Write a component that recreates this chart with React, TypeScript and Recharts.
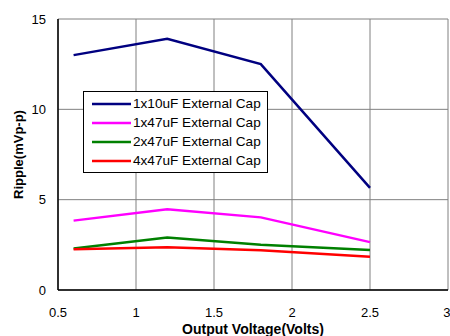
import React from 'react';
import { LineChart, Line, XAxis, YAxis, CartesianGrid } from 'recharts';

const voltages = [0.6, 1.2, 1.8, 2.5];
const cap1x10 = [13.0, 13.9, 12.5, 5.65];
const cap1x47 = [3.84, 4.47, 4.02, 2.65];
const cap2x47 = [2.3, 2.9, 2.5, 2.21];
const cap4x47 = [2.25, 2.36, 2.2, 1.84];
const xTicks = [0.5, 1, 1.5, 2, 2.5, 3];
const yTicks = [0, 5, 10, 15];

const SERIES = [
    { key: 'a', name: '1x10uF External Cap', values: cap1x10, color: '#000080' },
    { key: 'b', name: '1x47uF External Cap', values: cap1x47, color: '#ff00ff' },
    { key: 'c', name: '2x47uF External Cap', values: cap2x47, color: '#008000' },
    { key: 'd', name: '4x47uF External Cap', values: cap4x47, color: '#ff0000' },
];

const data = voltages.map((v, i) => {
    const row: Record<string, number> = { v };
    SERIES.forEach(s => { row[s.key] = s.values[i]; });
    return row;
});

const FONT = '"Liberation Sans", Arial, sans-serif';

// legend box sits over the plot, like the original
const LegendBox = () => (
    <div style={{ position: 'absolute', left: 83, top: 91, background: '#fff', border: '1px solid #000', padding: '2px 6px 2px 8px', fontFamily: FONT, fontSize: 13.6, color: '#000' }}>
        {SERIES.map(s => (
            <div key={s.key} style={{ display: 'flex', alignItems: 'center', height: 19 }}>
                <svg width={39} height={6} style={{ marginRight: 2 }}>
                    <line x1={0} y1={3} x2={39} y2={3} stroke={s.color} strokeWidth={2.5} />
                </svg>
                <span>{s.name}</span>
            </div>
        ))}
    </div>
);

const App: React.FC = () => (
    <div style={{ position: 'absolute', left: 0, top: 0, width: 450, height: 336, background: '#fff' }}>
        <LineChart width={450} height={336} data={data} margin={{ top: 19, right: 2, left: 0, bottom: 0 }}>
            <CartesianGrid stroke="#808080" strokeWidth={1} />
            <XAxis
                dataKey="v"
                type="number"
                domain={[0.5, 3]}
                ticks={xTicks}
                height={46}
                tickLine={false}
                axisLine={{ stroke: '#000', strokeWidth: 1.5 }}
                tick={{ fill: '#000', fontSize: 13, fontFamily: FONT }}
                tickMargin={12}
                label={{ value: 'Output Voltage(Volts)', position: 'insideBottom', offset: 2, fill: '#000', fontSize: 14, fontWeight: 'bold', fontFamily: FONT }}
            />
            <YAxis
                type="number"
                domain={[0, 15]}
                ticks={yTicks}
                width={58}
                tickLine={false}
                axisLine={{ stroke: '#000', strokeWidth: 1.5 }}
                tick={{ fill: '#000', fontSize: 13, fontFamily: FONT }}
                tickMargin={6}
                label={{ value: 'Ripple(mVp-p)', angle: -90, position: 'insideLeft', offset: 18, style: { textAnchor: 'middle' }, fill: '#000', fontSize: 13, fontWeight: 'bold', fontFamily: FONT }}
            />
            {SERIES.map(s => (
                <Line
                    key={s.key}
                    dataKey={s.key}
                    name={s.name}
                    stroke={s.color}
                    strokeWidth={2.5}
                    dot={false}
                    type="linear"
                    isAnimationActive={false}
                />
            ))}
        </LineChart>
        <LegendBox />
    </div>
);

export default App;
